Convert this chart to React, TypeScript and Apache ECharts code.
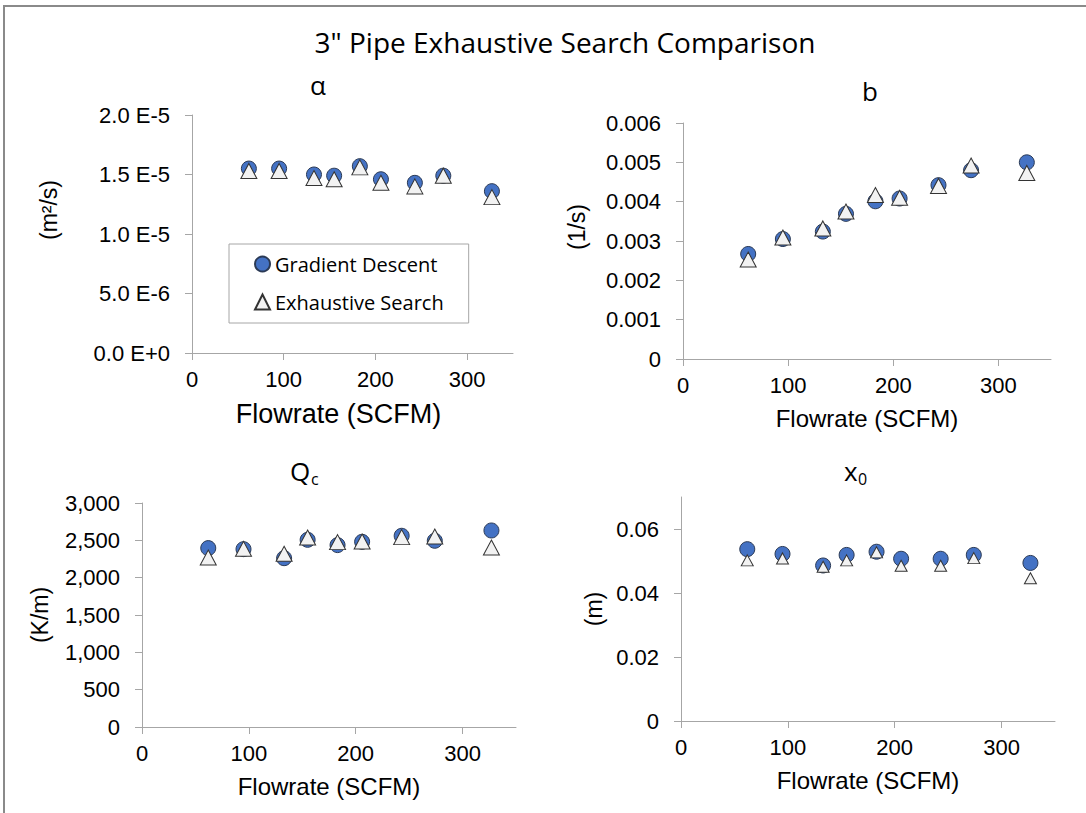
import React, { useEffect, useRef } from 'react';
import * as echarts from 'echarts';

// Flowrate of each test run (SCFM)
const flowrate = [62, 95, 133, 155, 183, 206, 243, 274, 327];

// Thermal diffusivity α (m²/s)
const alphaGradient = [1.55e-5, 1.55e-5, 1.5e-5, 1.49e-5, 1.57e-5, 1.46e-5, 1.43e-5, 1.49e-5, 1.36e-5];
const alphaExhaustive = [1.53e-5, 1.53e-5, 1.47e-5, 1.46e-5, 1.56e-5, 1.43e-5, 1.4e-5, 1.49e-5, 1.31e-5];

// Coefficient b (1/s)
const bGradient = [0.00267, 0.00305, 0.00324, 0.00369, 0.00401, 0.00408, 0.00442, 0.0048, 0.005];
const bExhaustive = [0.00253, 0.00309, 0.00332, 0.00375, 0.00417, 0.0041, 0.0044, 0.00492, 0.00473];

// Qc (K/m)
const qcGradient = [2396, 2382, 2261, 2507, 2436, 2480, 2561, 2494, 2632];
const qcExhaustive = [2269, 2386, 2320, 2538, 2476, 2484, 2543, 2551, 2404];

// x0 (m)
const x0Gradient = [0.0537, 0.0522, 0.0486, 0.0519, 0.0529, 0.0507, 0.0507, 0.0519, 0.0494];
const x0Exhaustive = [0.0502, 0.0508, 0.0482, 0.0502, 0.0527, 0.0485, 0.0485, 0.0509, 0.0446];

const flowTicks = [0, 100, 200, 300];
const x0Ticks = [0, 0.02, 0.04, 0.06];

const GD = 'Gradient Descent';
const ES = 'Exhaustive Search';

const AXIS_FONT = '"Liberation Sans", Arial, sans-serif';
const TITLE_FONT = '"Open Sans", "Noto Sans", sans-serif';
const AXIS_GRAY = '#a6a6a6';

const pairs = (xs: number[], ys: number[]) => xs.map((x, i) => [x, ys[i]]);

const sciLabel = (v: number) => {
  const [m, e] = v.toExponential(1).split('e');
  return `${m} E${e}`;
};

function xAxisFor(gridIndex: number, nameSize: number, namePad: number[]) {
  return {
    type: 'value',
    gridIndex,
    min: 0,
    max: 350,
    interval: 100,
    name: 'Flowrate (SCFM)',
    nameLocation: 'middle',
    nameGap: 47,
    nameTextStyle: { fontFamily: AXIS_FONT, fontSize: nameSize, color: '#000', padding: namePad },
    axisLine: { lineStyle: { color: AXIS_GRAY, width: 1 } },
    axisTick: { show: true, length: 7, customValues: flowTicks, lineStyle: { color: AXIS_GRAY } },
    axisLabel: { customValues: flowTicks, fontFamily: AXIS_FONT, fontSize: 22, color: '#000', margin: 15 },
    splitLine: { show: false },
  };
}

function yAxisFor(
  gridIndex: number,
  name: string,
  min: number,
  max: number,
  interval: number,
  formatter: (v: number) => string,
  nameGap: number,
  namePad: number[],
  extra: Record<string, unknown> = {}
) {
  return {
    type: 'value',
    gridIndex,
    min,
    max,
    interval,
    name,
    nameLocation: 'middle',
    nameGap,
    nameTextStyle: { fontFamily: AXIS_FONT, fontSize: 23, color: '#000', padding: namePad },
    axisLine: { show: true, lineStyle: { color: AXIS_GRAY, width: 1 } },
    axisTick: { show: true, length: 7, lineStyle: { color: AXIS_GRAY }, ...((extra.axisTick as object) || {}) },
    axisLabel: {
      fontFamily: AXIS_FONT,
      fontSize: 22,
      color: '#000',
      margin: 22,
      formatter,
      ...((extra.axisLabel as object) || {}),
    },
    splitLine: { show: false },
  };
}

const gdStyle = { color: '#4472C4', borderColor: '#2b3a55', borderWidth: 1, opacity: 1 };
const esStyle = { color: '#f2f2f2', borderColor: '#333333', borderWidth: 1, opacity: 1 };

function pairSeries(gridIdx: number, gd: number[], es: number[], triSize: number[]) {
  return [
    {
      type: 'scatter',
      name: GD,
      xAxisIndex: gridIdx,
      yAxisIndex: gridIdx,
      symbol: 'circle',
      symbolSize: 15,
      itemStyle: gdStyle,
      data: pairs(flowrate, gd),
    },
    {
      type: 'scatter',
      name: ES,
      xAxisIndex: gridIdx,
      yAxisIndex: gridIdx,
      symbol: 'triangle',
      symbolSize: triSize,
      itemStyle: esStyle,
      data: pairs(flowrate, es),
    },
  ];
}

function label(text: string, x: number, y: number, size: number, align = 'center') {
  return {
    type: 'text',
    x,
    y,
    style: {
      text,
      fontFamily: TITLE_FONT,
      fontSize: size,
      fill: '#000',
      align,
      verticalAlign: 'middle',
    },
  };
}

export default function App() {
  const ref = useRef<HTMLDivElement>(null);

  useEffect(() => {
    const chart = echarts.init(ref.current!, null, { renderer: 'svg' });
    chart.setOption({
      animation: false,
      backgroundColor: '#ffffff',
      grid: [
        { left: 192, top: 115, width: 321, height: 238 },
        { left: 683, top: 123, width: 368, height: 236 },
        { left: 142, top: 503, width: 374, height: 224 },
        { left: 681, top: 497, width: 374, height: 224 },
      ],
      xAxis: [
        xAxisFor(0, 27, [0, 28, 0, 0]),
        xAxisFor(1, 24, [0, 0, 0, 0]),
        xAxisFor(2, 24, [0, 0, 0, 0]),
        xAxisFor(3, 24, [0, 0, 0, 0]),
      ],
      yAxis: [
        yAxisFor(0, '(m²/s)', 0, 2e-5, 5e-6, sciLabel, 132, [0, 0, 0, 48]),
        yAxisFor(1, '(1/s)', 0, 0.006, 0.001, (v) => (v === 0 ? '0' : v.toFixed(3)), 95, [0, 0, 0, 28]),
        yAxisFor(2, '(K/m)', 0, 3000, 500, (v) => Math.round(v).toLocaleString('en-US'), 91, [0, 0, 0, 0]),
        yAxisFor(3, '(m)', 0, 0.07, 0.02, (v) => (v === 0 ? '0' : v.toFixed(2)), 76, [0, 0, 0, 0], {
          axisTick: { customValues: x0Ticks },
          axisLabel: { customValues: x0Ticks },
        }),
      ],
      legend: {
        data: [GD, ES],
        orient: 'vertical',
        left: 229,
        top: 244,
        padding: [8, 25, 9, 25],
        itemGap: 14,
        itemWidth: 15,
        itemHeight: 15,
        borderColor: AXIS_GRAY,
        borderWidth: 1,
        backgroundColor: '#ffffff',
        textStyle: { fontFamily: TITLE_FONT, fontSize: 20, color: '#000', lineHeight: 24 },
      },
      graphic: [
        {
          type: 'rect',
          shape: { x: 4, y: 6, width: 1300, height: 1000 },
          style: { fill: 'none', stroke: '#8a8a8a', lineWidth: 2 },
          silent: true,
        },
        label('3" Pipe Exhaustive Search Comparison', 565, 42, 28),
        label('α', 318, 85, 26),
        label('b', 870, 91, 26),
        label('Q', 290, 471, 26, 'left'),
        label('c', 311, 479, 16, 'left'),
        label('x', 844, 471, 26, 'left'),
        label('0', 858, 479, 16, 'left'),
      ],
      series: [
        ...pairSeries(0, alphaGradient, alphaExhaustive, [16, 15]),
        ...pairSeries(1, bGradient, bExhaustive, [16, 15]),
        ...pairSeries(2, qcGradient, qcExhaustive, [16, 15]),
        ...pairSeries(3, x0Gradient, x0Exhaustive, [12, 11]),
      ],
    });
    return () => chart.dispose();
  }, []);

  return (
    <div
      ref={ref}
      style={{ position: 'absolute', left: 0, top: 0, width: 1086, height: 813, background: '#ffffff' }}
    />
  );
}
